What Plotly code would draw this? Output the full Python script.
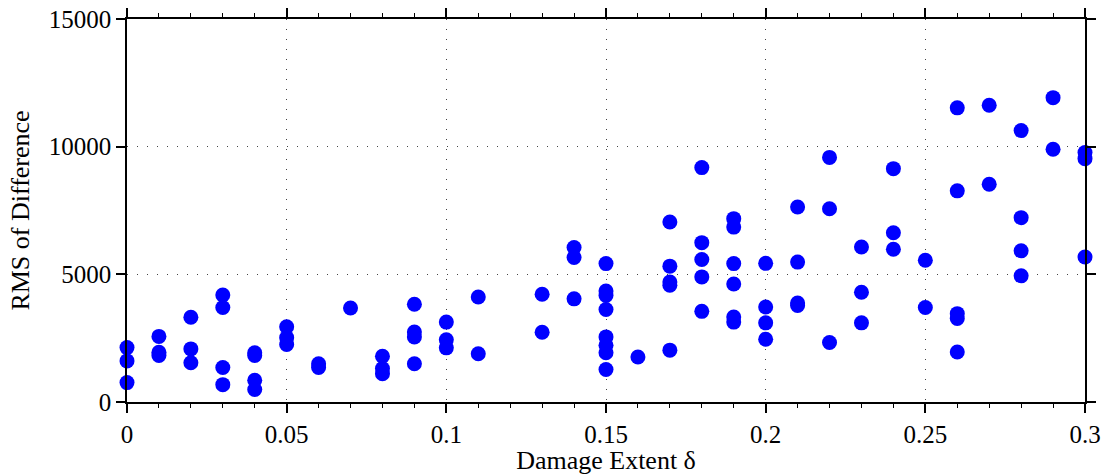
import plotly.graph_objects as go

# Damage extent (x) and RMS of difference (y)
damage_extent = (
    [0.00] * 3 + [0.01] * 3 + [0.02] * 3 + [0.03] * 4 + [0.04] * 4 + [0.05] * 3 +
    [0.06] * 2 + [0.07] * 1 + [0.08] * 3 + [0.09] * 4 + [0.10] * 3 + [0.11] * 2 +
    [0.13] * 2 + [0.14] * 3 + [0.15] * 8 + [0.16] * 1 + [0.17] * 5 + [0.18] * 5 +
    [0.19] * 6 + [0.20] * 4 + [0.21] * 4 + [0.22] * 3 + [0.23] * 3 + [0.24] * 3 +
    [0.25] * 2 + [0.26] * 5 + [0.27] * 2 + [0.28] * 4 + [0.29] * 2 + [0.30] * 3
)
rms_difference = [
    2130, 1610, 760,
    2570, 1950, 1820,
    3320, 2080, 1540,
    4190, 3700, 1350, 680,
    1930, 1820, 850, 490,
    2950, 2520, 2250,
    1500, 1350,
    3680,
    1790, 1310, 1110,
    3830, 2740, 2550, 1500,
    3130, 2440, 2120,
    4110, 1890,
    4220, 2730,
    6050, 5660, 4040,
    5420, 4350, 4170, 3620, 2550, 2220, 1930, 1270,
    1760,
    7050, 5320, 4700, 4570, 2030,
    9180, 6240, 5580, 4900, 3550,
    7180, 6850, 5420, 4620, 3330, 3130,
    5430, 3720, 3100, 2460,
    7640, 5480, 3880, 3780,
    9580, 7570, 2330,
    6070, 4300, 3100,
    9140, 6630, 5980,
    5550, 3700,
    11520, 8270, 3460, 3270, 1960,
    11620, 8530,
    10630, 7220, 5920, 4940,
    11920, 9900,
    9770, 9530, 5680,
]

x_title = "Damage Extent δ"
y_title = "RMS of Difference"

fig = go.Figure(
    go.Scatter(
        x=damage_extent,
        y=rms_difference,
        mode="markers",
        marker=dict(color="#0000ff", size=15, line=dict(width=0)),
        cliponaxis=False,
    )
)

font_family = "Liberation Serif, Times New Roman, serif"
axis_common = dict(
    showline=True,
    linecolor="black",
    linewidth=1.5,
    mirror="ticks",
    ticks="outside",
    ticklen=9,
    tickwidth=1.5,
    tickcolor="black",
    showgrid=True,
    gridcolor="#444444",
    gridwidth=1,
    griddash="1px,9px",
    zeroline=False,
    automargin=False,
    tickfont=dict(family=font_family, size=25, color="black"),
)

fig.update_layout(
    width=1103,
    height=475,
    margin=dict(l=127, r=18, t=19, b=73),
    paper_bgcolor="white",
    plot_bgcolor="white",
    showlegend=False,
    font=dict(family=font_family, size=25, color="black"),
    xaxis=dict(
        range=[0, 0.3],
        dtick=0.05,
        tick0=0,
        minor=dict(dtick=0.01, ticklen=4, tickwidth=1, tickcolor="black", ticks="outside", showgrid=False),
        title=dict(text=x_title, font=dict(family=font_family, size=26), standoff=4),
        **axis_common,
    ),
    yaxis=dict(
        range=[0, 15000],
        dtick=5000,
        tick0=0,
        tickformat="d",
        title=dict(text=y_title, font=dict(family=font_family, size=26), standoff=12),
        **axis_common,
    ),
)

fig.write_html(
    "out.html",
    config={"displayModeBar": False},
    post_script="document.body.style.margin='0';document.body.style.padding='0';",
)
